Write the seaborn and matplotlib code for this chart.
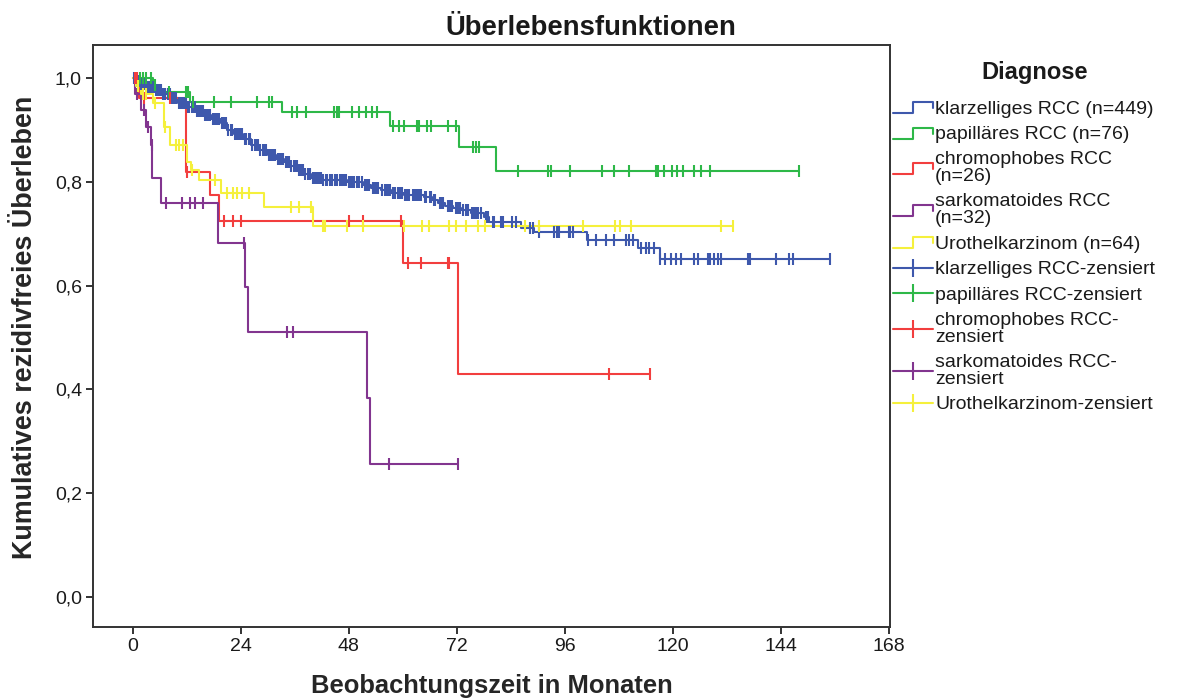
import numpy as np
import pandas as pd
import matplotlib
matplotlib.use("Agg")
import matplotlib.pyplot as plt
import seaborn as sns
from matplotlib.lines import Line2D
from matplotlib.legend_handler import HandlerBase

# ---- Kaplan-Meier estimates per diagnosis (months, cumulative recurrence-free survival) ----
klar_t = [0, 1.0, 1.8, 3.0, 5.0, 6.5, 8.4, 10.0, 12.2, 14.0, 15.8, 17.5, 19.6, 21.0, 22.5,
          24.5, 26.2, 28.0, 30.0, 31.8, 33.6, 35.0, 36.6, 38.0, 39.6, 42.0, 47.7, 51.3, 53.0,
          55.1, 57.5, 60.2, 64.7, 66.5, 67.8, 69.5, 71.3, 73.0, 75.1, 78.0, 79.1, 86.2, 89.1,
          101.0, 112.2, 117.3, 155.0]
klar_s = [1.0, 0.995, 0.988, 0.983, 0.977, 0.970, 0.961, 0.953, 0.944, 0.937, 0.929, 0.921,
          0.913, 0.900, 0.893, 0.882, 0.871, 0.862, 0.852, 0.845, 0.838, 0.830, 0.823, 0.815,
          0.807, 0.803, 0.800, 0.794, 0.789, 0.784, 0.779, 0.775, 0.771, 0.765, 0.759, 0.754,
          0.749, 0.745, 0.740, 0.732, 0.723, 0.711, 0.703, 0.688, 0.672, 0.651, 0.651]
klar_cens = [0.3, 0.6, 0.8, 1.1, 1.3, 1.6, 1.9, 2.2, 2.5, 2.7, 3.3, 3.6, 3.9, 4.1, 4.4, 4.7,
             5.2, 5.4, 5.9, 6.2, 6.8, 7.1, 7.3, 7.9, 8.2, 8.7, 9.1, 9.4, 9.6, 10.4, 10.7,
             10.9, 11.5, 11.8, 12.4, 12.6, 13.1, 13.6, 13.9, 14.3, 14.6, 14.9, 15.3, 15.6,
             16.1, 16.6, 17.0, 17.3, 17.9, 18.3, 18.8, 19.2, 19.9, 20.0, 20.5, 20.8, 21.3,
             21.8, 22.1, 22.8, 23.1, 23.4, 23.9, 24.2, 24.9, 25.3, 25.8, 26.1, 26.6, 27.1,
             27.6, 27.9, 28.4, 28.9, 29.4, 29.7, 30.3, 30.8, 31.3, 31.6, 32.2, 32.7, 33.2,
             33.5, 34.0, 34.5, 34.8, 35.3, 35.9, 36.2, 36.5, 37.0, 37.4, 37.8, 38.4, 38.9,
             39.2, 39.5, 40.0, 40.5, 40.8, 41.1, 41.6, 41.9, 42.4, 42.9, 43.3, 43.8, 44.1,
             44.4, 44.9, 45.2, 45.5, 46.1, 46.6, 46.9, 47.2, 47.5, 48.1, 48.6, 48.9, 49.2,
             49.8, 50.1, 50.4, 50.9, 51.7, 52.0, 52.3, 52.6, 53.4, 53.8, 54.2, 54.6, 55.5,
             56.0, 56.4, 56.8, 57.1, 57.8, 58.1, 58.4, 58.9, 59.5, 59.9, 60.6, 61.0, 61.5,
             62.2, 62.8, 63.3, 63.6, 64.0, 65.0, 65.3, 66.0, 66.3, 66.9, 67.3, 68.2, 68.6,
             69.0, 70.1, 70.6, 71.0, 71.8, 72.4, 72.8, 73.4, 74.0, 74.6, 75.5, 75.8, 76.2,
             76.7, 77.4, 78.5, 78.9, 80.0, 80.4, 81.8, 82.2, 84.4, 85.1, 88.4, 88.9, 90.2,
             93.6, 94.4, 94.7, 96.9, 97.3, 97.8, 101.1, 102.9, 105.1, 106.9, 109.6, 110.2,
             111.1, 112.9, 114.0, 114.7, 115.8, 117.3, 118.4, 119.6, 120.7, 121.8, 124.7,
             125.6, 127.8, 128.4, 129.1, 130.0, 130.7, 136.7, 137.3, 142.9, 145.8, 146.7,
             155.0]

papi_t = [0, 4.5, 5.5, 12.8, 33.3, 57.3, 72.5, 80.7, 148.0]
papi_s = [1.0, 0.987, 0.973, 0.955, 0.935, 0.908, 0.868, 0.821, 0.821]
papi_cens = [0.8, 1.6, 2.2, 3.0, 4.0, 5.0, 8.0, 11.8, 12.2, 13.5, 18.0, 21.8, 27.7, 30.3,
             31.0, 35.5, 36.6, 38.5, 44.7, 45.5, 45.9, 48.8, 50.2, 51.8, 53.3, 54.4, 57.8,
             59.1, 60.2, 63.3, 63.6, 65.5, 66.2, 70.0, 71.8, 75.6, 76.2, 77.0, 85.6, 92.2,
             92.9, 97.3, 104.4, 106.9, 110.2, 116.2, 116.7, 118.0, 119.8, 121.0, 122.2,
             124.7, 126.2, 128.2, 148.0]

chrom_t = [0, 1.5, 11.8, 17.1, 19.1, 60.1, 72.3, 115.0]
chrom_s = [1.0, 0.962, 0.820, 0.775, 0.724, 0.644, 0.430, 0.430]
chrom_cens = [0.5, 1.0, 2.5, 8.3, 12.0, 20.2, 22.4, 24.0, 48.0, 51.3, 59.6, 61.3, 64.0,
              70.0, 70.4, 105.8, 115.0]

sark_t = [0, 0.6, 1.8, 2.9, 4.0, 4.4, 6.2, 19.0, 25.0, 25.7, 52.0, 52.7, 72.2]
sark_s = [1.0, 0.969, 0.938, 0.906, 0.872, 0.807, 0.759, 0.683, 0.597, 0.511, 0.383,
          0.256, 0.256]
sark_cens = [0.9, 2.5, 3.5, 4.2, 7.5, 10.9, 12.7, 13.8, 15.7, 24.7, 34.4, 35.6, 56.9, 72.2]

uro_t = [0, 0.8, 1.8, 4.5, 6.9, 8.4, 12.0, 13.0, 14.7, 19.6, 29.1, 40.0, 133.4]
uro_s = [1.0, 0.984, 0.969, 0.953, 0.906, 0.871, 0.839, 0.823, 0.803, 0.778, 0.751,
         0.715, 0.715]
uro_cens = [1.2, 2.4, 3.0, 5.0, 7.3, 9.6, 10.3, 11.1, 13.3, 18.4, 21.0, 22.4, 23.3, 24.4,
            25.8, 35.1, 37.0, 39.6, 42.3, 42.7, 47.7, 51.3, 60.2, 64.4, 65.8, 70.2, 71.8,
            74.0, 76.7, 78.4, 87.3, 90.2, 100.0, 107.3, 108.4, 110.7, 130.7, 133.4]

curve_labels = ["klarzelliges RCC (n=449)", "papilläres RCC (n=76)",
                "chromophobes RCC\n(n=26)", "sarkomatoides RCC\n(n=32)",
                "Urothelkarzinom (n=64)"]
censor_labels = ["klarzelliges RCC-zensiert", "papilläres RCC-zensiert",
                 "chromophobes RCC-\nzensiert", "sarkomatoides RCC-\nzensiert",
                 "Urothelkarzinom-zensiert"]
colors = ["#3E58AC", "#2EB848", "#F23E3E", "#82358F", "#F5F03C"]

x_ticks = [0, 24, 48, 72, 96, 120, 144, 168]
y_ticks = [0.0, 0.2, 0.4, 0.6, 0.8, 1.0]
y_tick_labels = ["0,0", "0,2", "0,4", "0,6", "0,8", "1,0"]

curves = [(klar_t, klar_s, klar_cens), (papi_t, papi_s, papi_cens),
          (chrom_t, chrom_s, chrom_cens), (sark_t, sark_s, sark_cens),
          (uro_t, uro_s, uro_cens)]

# ---- styling ----
sns.set_theme(style="ticks")
plt.rcParams["font.family"] = ["Liberation Sans", "DejaVu Sans"]
plt.rcParams["text.color"] = "#1a1a1a"

W, H = 1181, 700
fig = plt.figure(figsize=(W / 100, H / 100), dpi=100)
ax = fig.add_axes([93 / W, 1 - 627 / H, (890 - 93) / W, (627 - 45) / H])

for (t, s, cens), c in zip(curves, colors):
    df = pd.DataFrame({"Monate": t, "Ueberleben": s})
    sns.lineplot(data=df, x="Monate", y="Ueberleben", drawstyle="steps-post",
                 estimator=None, sort=False, color=c, lw=1.5, ax=ax, legend=False)
    t_arr = np.asarray(t)
    s_arr = np.asarray(s)
    idx = np.searchsorted(t_arr, np.asarray(cens), side="right") - 1
    cdf = pd.DataFrame({"Monate": cens, "Ueberleben": s_arr[idx]})
    sns.scatterplot(data=cdf, x="Monate", y="Ueberleben", marker="|", s=80,
                    linewidth=1.5, color=c, ax=ax, legend=False, zorder=3)

ax.set_xlim(-8.8, 168.3)
ax.set_ylim(-0.058, 1.064)
ax.set_xticks(x_ticks)
ax.set_xticklabels([str(v) for v in x_ticks])
ax.set_yticks(y_ticks)
ax.set_yticklabels(y_tick_labels)
ax.tick_params(direction="out", length=5, width=1.4, color="#333333",
               labelsize=14, labelcolor="#1a1a1a", pad=3)
for sp in ax.spines.values():
    sp.set_visible(True)
    sp.set_color("#333333")
    sp.set_linewidth(1.4)

ax.set_xlabel("Beobachtungszeit in Monaten", fontsize=18.4, fontweight="bold")
ax.xaxis.set_label_coords(0.5, -(686 - 627) / 582)
ax.xaxis.label.set_va("center")
ax.set_ylabel("Kumulatives rezidivfreies Überleben", fontsize=19.4, fontweight="bold")
ax.yaxis.set_label_coords(-(93 - 25) / 797, (627 - 327) / 582)
ax.yaxis.label.set_va("center")

fig.text(0.5, 1 - 28 / H, "Überlebensfunktionen", ha="center", va="center",
         fontsize=19.8, fontweight="bold")


# ---- legend with step-shaped and censor-shaped keys ----
class StepHandler(HandlerBase):
    def create_artists(self, legend, orig_handle, xdescent, ydescent, width, height,
                       fontsize, trans):
        x0 = -xdescent
        y0 = -ydescent
        xs = [x0, x0 + 0.5 * width, x0 + 0.5 * width, x0 + width, x0 + width]
        ys = [y0 + 0.05 * height, y0 + 0.05 * height, y0 + 0.85 * height,
              y0 + 0.85 * height, y0 + 0.4 * height]
        line = Line2D(xs, ys, color=orig_handle.get_color(), lw=1.5, transform=trans)
        return [line]


step_handles = [Line2D([], [], color=c, lw=1.5) for c in colors]
cens_handles = [Line2D([], [], color=c, lw=1.5, marker="|", markersize=13,
                       markeredgewidth=1.5) for c in colors]
handler_map = {h: StepHandler() for h in step_handles}

fig.text(1035 / W, 1 - 73 / H, "Diagnose", ha="center", va="center",
         fontsize=17, fontweight="bold")
leg = fig.legend(step_handles + cens_handles, curve_labels + censor_labels,
                 handler_map=handler_map, loc="upper left",
                 bbox_to_anchor=(893 / W, 1 - 100 / H), frameon=False,
                 fontsize=14, handlelength=2.05, handletextpad=0.12,
                 labelspacing=0.41, borderpad=0, borderaxespad=0, numpoints=1)
for txt in leg.get_texts():
    txt.set_linespacing(1.0)

fig.savefig("out.png", dpi=100)
